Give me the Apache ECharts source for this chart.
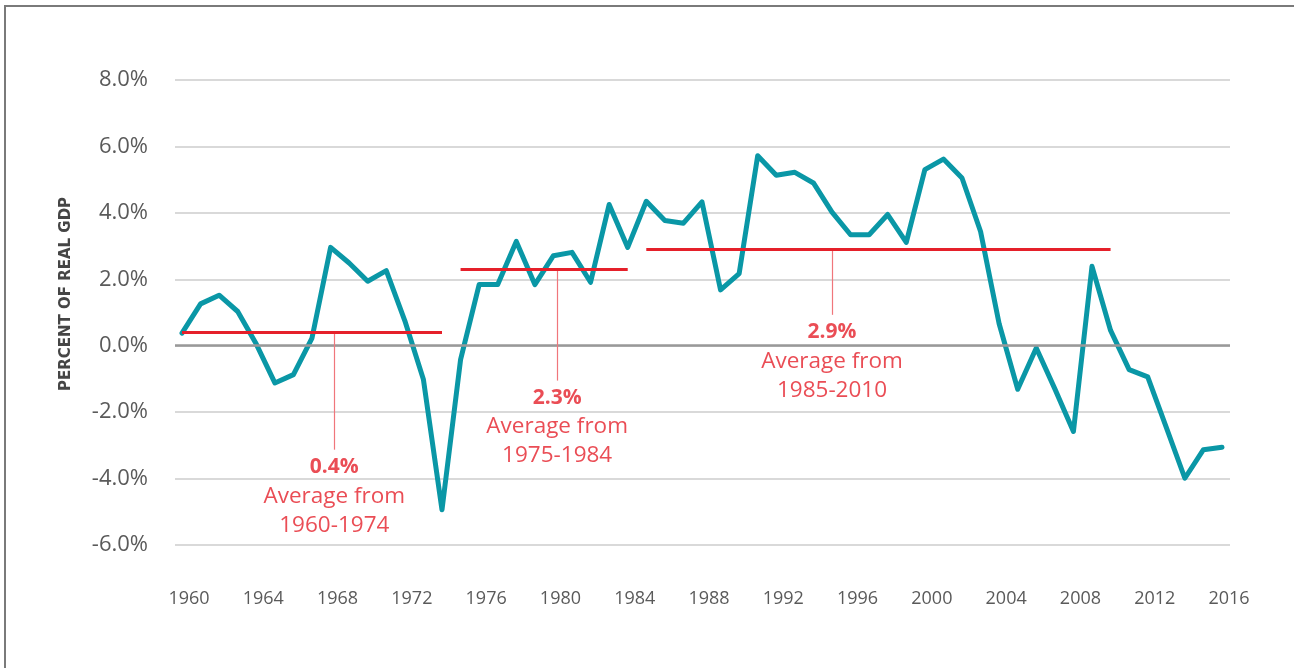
<!DOCTYPE html>
<html>
<head>
<meta charset="utf-8">
<script src="https://cdn.jsdelivr.net/npm/echarts@6/dist/echarts.min.js"></script>
<style>
  html, body { margin: 0; padding: 0; background: #fff; }
  #main { width: 1294px; height: 668px; }
</style>
</head>
<body>
<div id="main"></div>
<script>
// years on the x axis
var years = [1960, 1961, 1962, 1963, 1964, 1965, 1966, 1967, 1968, 1969,
             1970, 1971, 1972, 1973, 1974, 1975, 1976, 1977, 1978, 1979,
             1980, 1981, 1982, 1983, 1984, 1985, 1986, 1987, 1988, 1989,
             1990, 1991, 1992, 1993, 1994, 1995, 1996, 1997, 1998, 1999,
             2000, 2001, 2002, 2003, 2004, 2005, 2006, 2007, 2008, 2009,
             2010, 2011, 2012, 2013, 2014, 2015, 2016];
// percent of real GDP
var pct = [0.38, 1.26, 1.52, 1.03, 0.05, -1.12, -0.87, 0.23, 2.96, 2.49,
           1.94, 2.26, 0.75, -1.02, -4.94, -0.42, 1.84, 1.84, 3.14, 1.84,
           2.71, 2.81, 1.91, 4.25, 2.96, 4.35, 3.77, 3.69, 4.33, 1.68,
           2.17, 5.72, 5.13, 5.22, 4.90, 4.02, 3.34, 3.34, 3.95, 3.11,
           5.30, 5.62, 5.05, 3.44, 0.66, -1.31, -0.07, -1.30, -2.58, 2.39,
           0.46, -0.72, -0.94, -2.46, -3.99, -3.13, -3.06];

// period averages
var avgValue = [0.4, 2.3, 2.9];
var avgFrom  = [1960, 1975, 1985];
var avgTo    = [1974, 1984, 2010];
var avgLabel = ['1960-1974', '1975-1984', '1985-2010'];
// where each note hangs (year of the stem, value where the stem ends)
var noteYear = [1968.2, 1980.2, 1995.0];
var noteEnd  = [-3.13, -1.05, 0.93];

var red = '#E5202A';
var teal = '#0A97A6';
var font = 'Open Sans';

var lineData = years.map(function (y, i) { return [y, pct[i]]; });

var avgLines = [];
var stems = [];
var notes = [];
for (var i = 0; i < avgValue.length; i++) {
    avgLines.push([{ coord: [avgFrom[i], avgValue[i]] }, { coord: [avgTo[i], avgValue[i]] }]);
    stems.push([{ coord: [noteYear[i], avgValue[i]] }, { coord: [noteYear[i], noteEnd[i]] }]);
    notes.push({
        value: [noteYear[i], noteEnd[i]],
        label: {
            formatter: '{b|' + avgValue[i].toFixed(1) + '%}\n{t|Average from}\n{t|' + avgLabel[i] + '}'
        }
    });
}

var myChart = echarts.init(document.getElementById('main'));

var option = {
    animation: false,
    // grid 0 carries the gridlines, grid 1 the data (slightly inset)
    grid: [
        { left: 175, right: 64, top: 80, bottom: 123 },
        { left: 182, right: 72, top: 80, bottom: 123 }
    ],
    graphic: [
        {
            type: 'rect',
            silent: true,
            shape: { x: 5, y: 6, width: 1320, height: 720 },
            style: { fill: 'none', stroke: '#7a7a7a', lineWidth: 2 }
        },
        {
            type: 'text',
            x: 66, y: 294,
            rotation: Math.PI / 2,
            style: {
                text: 'PERCENT OF REAL GDP',
                fill: '#454545',
                font: 'bold 15px "DejaVu Sans"',
                textAlign: 'center',
                textVerticalAlign: 'middle'
            }
        }
    ],
    xAxis: [
        { gridIndex: 0, type: 'value', min: 0, max: 1, show: false },
        {
            gridIndex: 1,
            type: 'value',
            min: 1960,
            max: 2016,
            interval: 4,
            axisLine: { show: false },
            axisTick: { show: false },
            splitLine: { show: false },
            axisLabel: {
                color: '#5a5a5a',
                fontFamily: font,
                fontSize: 18,
                margin: 45,
                padding: [0, 0, 0, 14],
                formatter: function (v) { return String(v); }
            }
        }
    ],
    yAxis: [
        {
            gridIndex: 0,
            type: 'value',
            min: -6,
            max: 8,
            interval: 2,
            axisLine: { show: false },
            axisTick: { show: false },
            splitLine: { lineStyle: { color: '#cccccc', width: 1.5 } },
            axisLabel: {
                color: '#5a5a5a',
                fontFamily: font,
                fontSize: 22,
                margin: 27,
                formatter: function (v) { return v.toFixed(1) + '%'; }
            }
        },
        { gridIndex: 1, type: 'value', min: -6, max: 8, interval: 2, show: false }
    ],
    series: [
        {
            name: 'zero',
            type: 'line',
            xAxisIndex: 0,
            yAxisIndex: 0,
            data: [],
            markLine: {
                silent: true,
                symbol: 'none',
                label: { show: false },
                lineStyle: { color: '#999', width: 2.5, type: 'solid' },
                data: [{ yAxis: 0 }]
            }
        },
        {
            name: 'stems',
            type: 'line',
            xAxisIndex: 1,
            yAxisIndex: 1,
            data: [],
            markLine: {
                silent: true,
                symbol: 'none',
                label: { show: false },
                lineStyle: { color: '#F0767B', width: 1.2, type: 'solid' },
                data: stems
            }
        },
        {
            name: 'gdp',
            type: 'line',
            xAxisIndex: 1,
            yAxisIndex: 1,
            data: lineData,
            showSymbol: false,
            z: 3,
            lineStyle: { color: teal, width: 5, cap: 'round', join: 'round' }
        },
        {
            name: 'averages',
            type: 'line',
            xAxisIndex: 1,
            yAxisIndex: 1,
            data: [],
            z: 4,
            markLine: {
                silent: true,
                symbol: 'none',
                label: { show: false },
                lineStyle: { color: red, width: 2.8, type: 'solid' },
                data: avgLines
            }
        },
        {
            name: 'notes',
            type: 'scatter',
            xAxisIndex: 1,
            yAxisIndex: 1,
            symbolSize: 0,
            data: notes,
            label: {
                show: true,
                position: 'bottom',
                distance: 3,
                align: 'center',
                rich: {
                    b: { fontFamily: font, fontWeight: 'bold', fontSize: 21, color: red, lineHeight: 29, align: 'center' },
                    t: { fontFamily: font, fontSize: 22.5, color: red, lineHeight: 29, align: 'center' }
                }
            }
        }
    ]
};

// 渲染
myChart.setOption(option);
</script>
</body>
</html>
